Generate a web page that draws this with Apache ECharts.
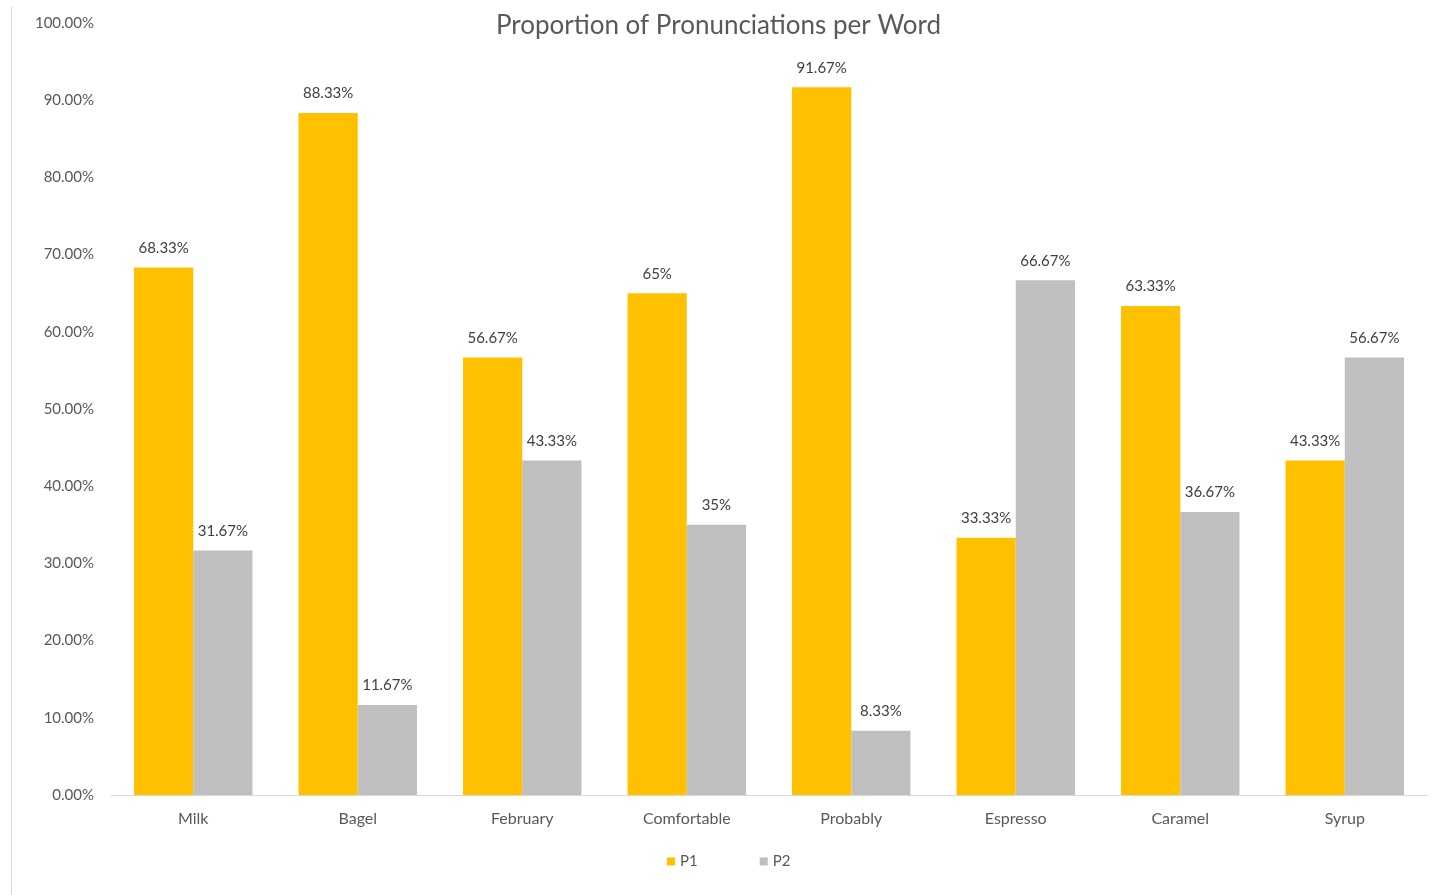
<!DOCTYPE html>
<html>
<head>
<meta charset="utf-8">
<script src="https://cdn.jsdelivr.net/npm/echarts@6/dist/echarts.min.js"></script>
<style>
html,body{margin:0;padding:0;background:#fff;}
#chart{width:1437px;height:895px;}
</style>
</head>
<body>
<div id="chart"></div>
<script>
const categories = ['Milk','Bagel','February','Comfortable','Probably','Espresso','Caramel','Syrup'];
const p1Values = [68.33, 88.33, 56.67, 65, 91.67, 33.33, 63.33, 43.33];
const p2Values = [31.67, 11.67, 43.33, 35, 8.33, 66.67, 36.67, 56.67];
const seriesNames = ['P1','P2'];

const FONT = 'Lato, "Open Sans", sans-serif';
const chart = echarts.init(document.getElementById('chart'));
chart.setOption({
  backgroundColor: '#fff',
  animation: false,
  title: {
    text: 'Proportion of Pronunciations per Word',
    left: 'center',
    top: 8,
    textStyle: {fontFamily: FONT, fontSize: 26, fontWeight: 'normal', color: '#595959'}
  },
  legend: {
    data: seriesNames,
    bottom: 21,
    left: 662,
    icon: 'rect',
    itemWidth: 8,
    itemHeight: 8,
    itemGap: 62,
    textStyle: {fontFamily: FONT, fontSize: 15, color: '#595959'}
  },
  grid: {left: 111, right: 10, top: 23, bottom: 100, containLabel: false},
  xAxis: {
    type: 'category',
    data: categories,
    axisLine: {lineStyle: {color: '#d9d9d9', width: 1}},
    axisTick: {show: false},
    axisLabel: {fontFamily: FONT, fontSize: 16, color: '#595959', margin: 16}
  },
  yAxis: {
    type: 'value',
    min: 0, max: 100, interval: 10,
    splitLine: {show: false},
    axisLine: {show: false},
    axisTick: {show: false},
    axisLabel: {fontFamily: FONT, fontSize: 15, color: '#595959', margin: 17,
      formatter: v => v.toFixed(2) + '%'}
  },
  graphic: [{
    type: 'line', shape: {x1: 11.5, y1: 6, x2: 11.5, y2: 895},
    style: {stroke: '#d9d9d9', lineWidth: 1}
  }],
  series: [
    {name: 'P1', type: 'bar', data: p1Values, barGap: '0%', barCategoryGap: '28%',
     itemStyle: {color: '#FFC000'},
     label: {show: true, position: 'top', distance: 12, fontFamily: FONT, fontSize: 15, color: '#404040',
       formatter: p => p.value + '%'}},
    {name: 'P2', type: 'bar', data: p2Values, barGap: '0%', barCategoryGap: '28%',
     itemStyle: {color: '#BFBFBF'},
     label: {show: true, position: 'top', distance: 12, fontFamily: FONT, fontSize: 15, color: '#404040',
       formatter: p => p.value + '%'}}
  ]
});
</script>
</body>
</html>
